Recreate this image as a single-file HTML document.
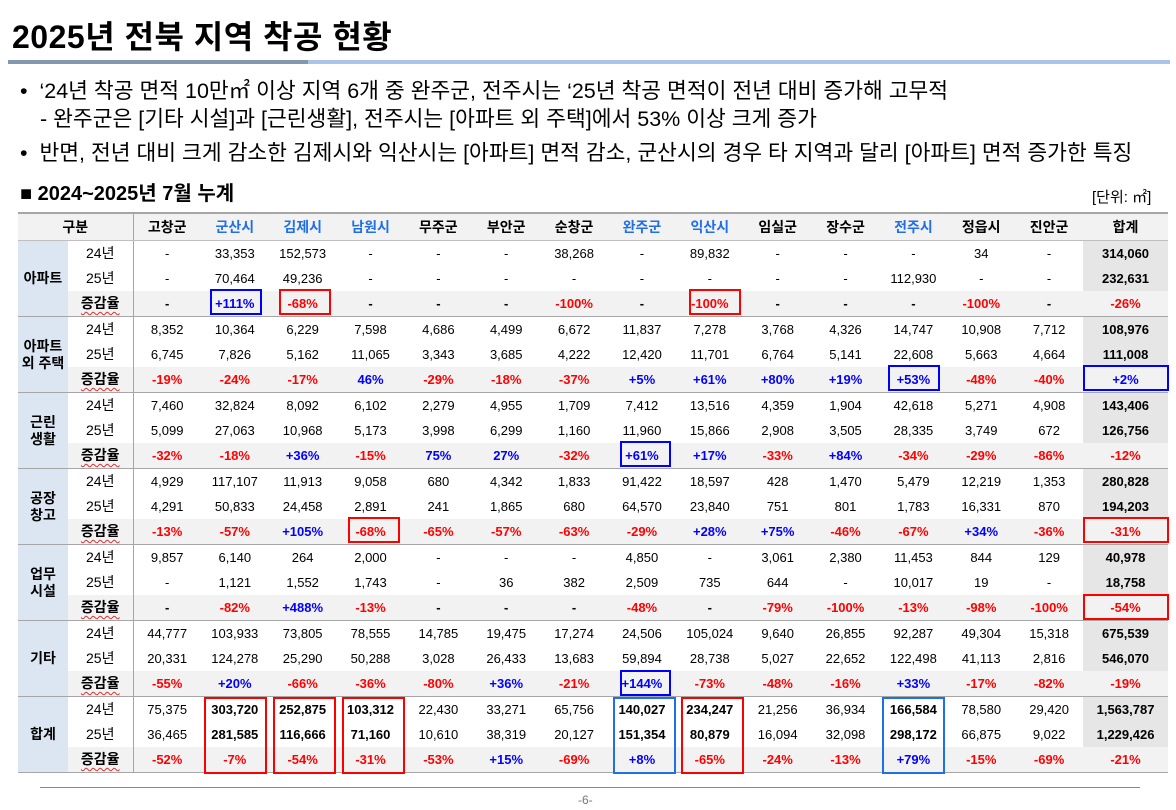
<!DOCTYPE html>
<html><head><meta charset="utf-8">
<style>
body{margin:0;width:1176px;height:810px;background:#fff;position:relative;overflow:hidden;font-family:"Liberation Sans","Noto Sans CJK KR",sans-serif;color:#000}
.abs{position:absolute;white-space:nowrap}
#title{left:12px;top:12px;font-size:32px;font-weight:bold;letter-spacing:0.5px}
#l1{left:8px;top:60px;width:300px;height:4px;background:#8497b0}
#l2{left:308px;top:60px;width:862px;height:4px;background:#a9c4e8}
.b{font-size:21.5px;left:20px}
table{position:absolute;left:18px;top:212px;border-collapse:collapse;table-layout:fixed;font-size:13px}
td{padding:0;text-align:center;height:25px;line-height:25px;white-space:nowrap}
tr.h td{height:26px;background:#f2f2f2;font-weight:bold;font-size:14px;border-top:2px solid #a6a6a6;border-bottom:1px solid #bfbfbf}
td.g{background:#dce6f2;font-weight:bold;font-size:14px;line-height:17px}
td.s{border-right:1px solid #a6a6a6;font-size:14px}
tr.p td{background:#f2f2f2;font-weight:bold}
tr.p td.g{background:#dce6f2}
tr.p{border-bottom:1px solid #a6a6a6}
td.t{background:#e6e6e6;font-weight:bold}
tr.p td.t{background:#f2f2f2}
.u{text-decoration:underline wavy #e03030;text-underline-offset:3px;text-decoration-thickness:1px}
.r{color:#ff0000}.bl{color:#0000ff}
.hb{color:#1f6fe8}
.box{position:absolute;border:2px solid #ff0000;box-sizing:border-box}
.box.blu{border-color:#0000ff}
.box.lb{border-color:#1f6fe8}
</style></head><body>
<div class="abs" id="title">2025년 전북 지역 착공 현황</div>
<div class="abs" id="l1"></div><div class="abs" id="l2"></div>
<div class="abs b" style="top:74px">•&nbsp;&nbsp;‘24년 착공 면적 10만㎡ 이상 지역 6개 중 완주군, 전주시는 ‘25년 착공 면적이 전년 대비 증가해 고무적</div>
<div class="abs b" style="top:102px;left:40px">- 완주군은 [기타 시설]과 [근린생활], 전주시는 [아파트 외 주택]에서 53% 이상 크게 증가</div>
<div class="abs b" style="top:136px">•&nbsp;&nbsp;반면, 전년 대비 크게 감소한 김제시와 익산시는 [아파트] 면적 감소, 군산시의 경우 타 지역과 달리 [아파트] 면적 증가한 특징</div>
<div class="abs" style="left:20px;top:177px;font-size:20px;font-weight:bold">■ 2024~2025년 7월 누계</div>
<div class="abs" style="left:1092px;top:186px;font-size:15px">[단위: ㎡]</div>
<table id="tb"></table>
<div class="abs" style="left:40px;top:787px;width:1100px;height:1px;background:#888"></div>
<div class="abs" style="left:578px;top:793px;font-size:12px;color:#777">-6-</div>
<div class="box blu" style="left:210px;top:289px;width:52px;height:26px"></div>
<div class="box" style="left:279px;top:289px;width:52px;height:26px"></div>
<div class="box" style="left:689px;top:289px;width:52px;height:26px"></div>
<div class="box blu" style="left:888px;top:365px;width:52px;height:26px"></div>
<div class="box blu" style="left:1083px;top:365px;width:86px;height:26px"></div>
<div class="box blu" style="left:620px;top:441px;width:51px;height:26px"></div>
<div class="box" style="left:348px;top:517px;width:52px;height:26px"></div>
<div class="box" style="left:1083px;top:517px;width:86px;height:26px"></div>
<div class="box" style="left:1083px;top:594px;width:86px;height:26px"></div>
<div class="box blu" style="left:620px;top:670px;width:51px;height:26px"></div>
<div class="box" style="left:204px;top:697px;width:63px;height:77px"></div>
<div class="box" style="left:273px;top:697px;width:63px;height:77px"></div>
<div class="box" style="left:342px;top:697px;width:63px;height:77px"></div>
<div class="box lb" style="left:613px;top:697px;width:63px;height:77px"></div>
<div class="box" style="left:681px;top:697px;width:63px;height:77px"></div>
<div class="box lb" style="left:882px;top:697px;width:63px;height:77px"></div>
<script>
var regions=["고창군","군산시","김제시","남원시","무주군","부안군","순창군","완주군","익산시","임실군","장수군","전주시","정읍시","진안군"];
var blueH={"군산시":1,"김제시":1,"남원시":1,"완주군":1,"익산시":1,"전주시":1};
var G=[
["아파트",
"- 33,353 152,573 - - - 38,268 - 89,832 - - - 34 - 314,060",
"- 70,464 49,236 - - - - - - - - 112,930 - - 232,631",
"- +111% -68% - - - -100% - -100% - - - -100% - -26%"],
["아파트<br>외 주택",
"8,352 10,364 6,229 7,598 4,686 4,499 6,672 11,837 7,278 3,768 4,326 14,747 10,908 7,712 108,976",
"6,745 7,826 5,162 11,065 3,343 3,685 4,222 12,420 11,701 6,764 5,141 22,608 5,663 4,664 111,008",
"-19% -24% -17% 46% -29% -18% -37% +5% +61% +80% +19% +53% -48% -40% +2%"],
["근린<br>생활",
"7,460 32,824 8,092 6,102 2,279 4,955 1,709 7,412 13,516 4,359 1,904 42,618 5,271 4,908 143,406",
"5,099 27,063 10,968 5,173 3,998 6,299 1,160 11,960 15,866 2,908 3,505 28,335 3,749 672 126,756",
"-32% -18% +36% -15% 75% 27% -32% +61% +17% -33% +84% -34% -29% -86% -12%"],
["공장<br>창고",
"4,929 117,107 11,913 9,058 680 4,342 1,833 91,422 18,597 428 1,470 5,479 12,219 1,353 280,828",
"4,291 50,833 24,458 2,891 241 1,865 680 64,570 23,840 751 801 1,783 16,331 870 194,203",
"-13% -57% +105% -68% -65% -57% -63% -29% +28% +75% -46% -67% +34% -36% -31%"],
["업무<br>시설",
"9,857 6,140 264 2,000 - - - 4,850 - 3,061 2,380 11,453 844 129 40,978",
"- 1,121 1,552 1,743 - 36 382 2,509 735 644 - 10,017 19 - 18,758",
"- -82% +488% -13% - - - -48% - -79% -100% -13% -98% -100% -54%"],
["기타",
"44,777 103,933 73,805 78,555 14,785 19,475 17,274 24,506 105,024 9,640 26,855 92,287 49,304 15,318 675,539",
"20,331 124,278 25,290 50,288 3,028 26,433 13,683 59,894 28,738 5,027 22,652 122,498 41,113 2,816 546,070",
"-55% +20% -66% -36% -80% +36% -21% +144% -73% -48% -16% +33% -17% -82% -19%"],
["합계",
"75,375 303,720 252,875 103,312 22,430 33,271 65,756 140,027 234,247 21,256 36,934 166,584 78,580 29,420 1,563,787",
"36,465 281,585 116,666 71,160 10,610 38,319 20,127 151,354 80,879 16,094 32,098 298,172 66,875 9,022 1,229,426",
"-52% -7% -54% -31% -53% +15% -69% +8% -65% -24% -13% +79% -15% -69% -21%"]];
var h='<colgroup><col style="width:50px"><col style="width:65px">';
for(var i=0;i<14;i++)h+='<col style="width:67.86px">';
h+='<col style="width:85px"></colgroup>';
h+='<tr class="h"><td colspan="2" style="border-right:1px solid #a6a6a6">구분</td>';
regions.forEach(function(r){h+='<td'+(blueH[r]?' class="hb"':'')+'>'+r+'</td>';});
h+='<td>합계</td></tr>';
var boldCols=[1,2,3,7,8,11];
G.forEach(function(g,gi){
 for(var k=0;k<3;k++){
  var v=g[k+1].split(' ');
  h+='<tr'+(k==2?' class="p"':'')+'>';
  if(k==0)h+='<td class="g" rowspan="3">'+g[0]+'</td>';
  h+='<td class="s">'+(k==0?'24년':k==1?'25년':'<span class="u">증감율</span>')+'</td>';
  v.forEach(function(x,j){
   var cls='';var st='';
   if(j==14)cls='t';
   if(k==2){ if(x!='-'){ cls+=(x[0]=='-'?' r':' bl'); } }
   else if(gi==6 && boldCols.indexOf(j)>=0) st=' style="font-weight:bold"';
   h+='<td class="'+cls+'"'+st+'>'+x+'</td>';
  });
  h+='</tr>';
 }
});
document.getElementById('tb').innerHTML=h;
</script>
</body></html>
